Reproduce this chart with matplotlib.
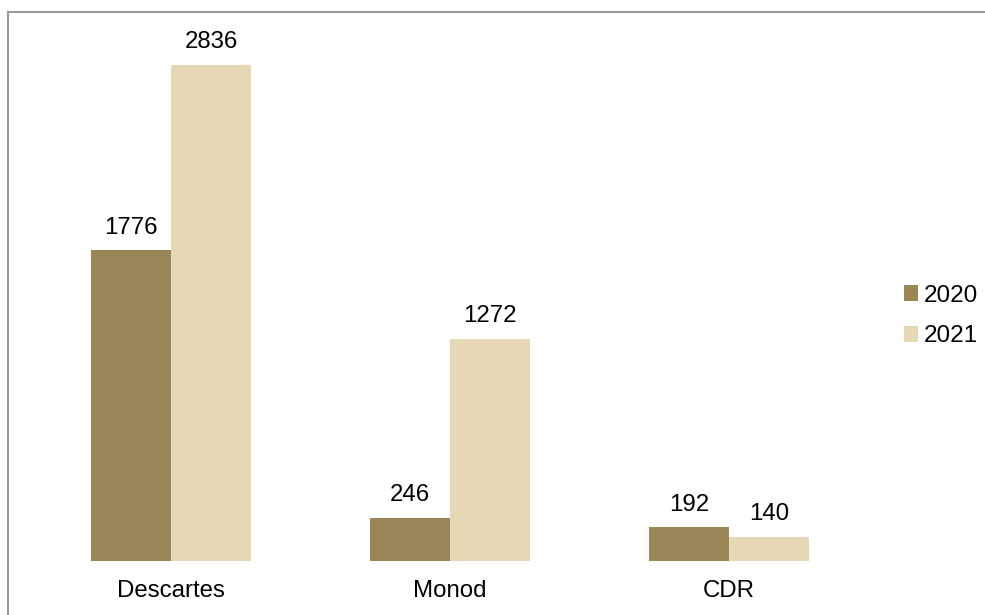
import numpy as np
import matplotlib.pyplot as plt
from matplotlib.lines import Line2D

categories = ['Descartes', 'Monod', 'CDR']
years = ['2020', '2021']
values_2020 = [1776, 246, 192]
values_2021 = [2836, 1272, 140]

colors = ['#9B8658', '#E6D8B4']

plt.rcParams['font.family'] = ['Liberation Sans', 'DejaVu Sans']

fig = plt.figure(figsize=(9.85, 6.15), dpi=100)
W, H = 985, 615
ax = fig.add_axes([31.5 / W, 54 / H, (868.5 - 31.5) / W, (561 - 36.3) / H])

x = np.arange(len(categories))
width = 0.2867

for i, (vals, year) in enumerate(zip([values_2020, values_2021], years)):
    pos = x + (i - 0.5) * width
    bars = ax.bar(pos, vals, width, color=colors[i], label=year, linewidth=0)
    for b, v in zip(bars, vals):
        ax.annotate(str(v), (b.get_x() + b.get_width() / 2, v),
                    xytext=(0, 8.5), textcoords='offset points',
                    ha='center', va='bottom', fontsize=17.3)

ax.set_xlim(-0.5, len(categories) - 0.5)
ax.set_ylim(0, 3000)
ax.set_xticks(x)
ax.set_xticklabels(categories, fontsize=17.3)
ax.tick_params(axis='x', length=0, pad=14)
ax.set_yticks([])
for s in ax.spines.values():
    s.set_visible(False)

ax.legend(loc='center left', bbox_to_anchor=(882 / W, 1 - 316 / H), bbox_transform=fig.transFigure,
          frameon=False, fontsize=17.5, handlelength=0.6, handleheight=0.6,
          handletextpad=0.2, labelspacing=0.78)

# chart area border (left and top edges visible)
fig.add_artist(Line2D([7.5 / W, 7.5 / W], [0, 1 - 12 / H], transform=fig.transFigure,
                      color='#9a9a9a', linewidth=1.5))
fig.add_artist(Line2D([7.5 / W, 1], [1 - 12 / H, 1 - 12 / H], transform=fig.transFigure,
                      color='#9a9a9a', linewidth=1.5))

fig.savefig('out.png', dpi=100)
